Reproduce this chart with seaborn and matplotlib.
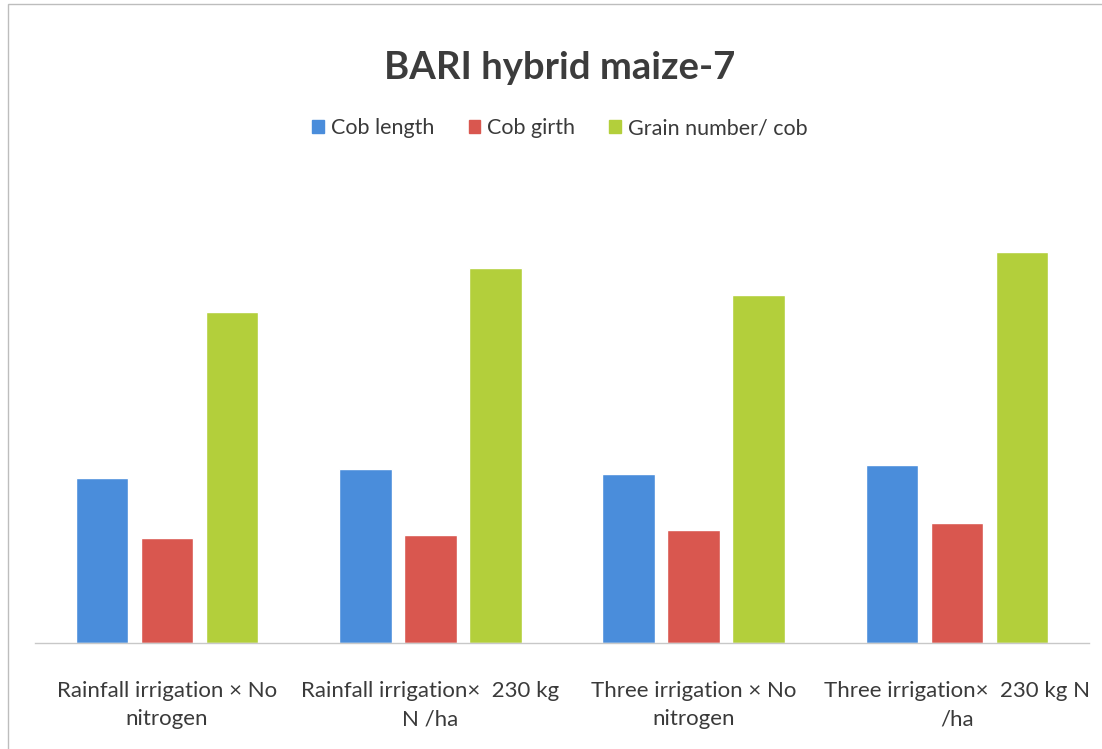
import pandas as pd
import numpy as np
import matplotlib.pyplot as plt
import seaborn as sns
from matplotlib.patches import Rectangle

# data (no value axis shown, relative heights only)
categories = [
    "Rainfall irrigation × No\nnitrogen",
    "Rainfall irrigation×  230 kg\nN /ha",
    "Three irrigation × No\nnitrogen",
    "Three irrigation×  230 kg N\n/ha",
]
series = ["Cob length", "Cob girth", "Grain number/ cob"]
cob_length = [16.5, 17.4, 16.9, 17.8]
cob_girth = [10.5, 10.8, 11.3, 12.0]
grain_number = [33.1, 37.5, 34.8, 39.1]

colors = ["#4a8ddb", "#d9574f", "#b3cf3b"]

df = pd.DataFrame({
    "treatment": categories * 3,
    "trait": [s for s in series for _ in categories],
    "value": cob_length + cob_girth + grain_number,
})

sns.set_theme(style="white")
plt.rcParams["font.family"] = ["Lato", "DejaVu Sans"]

fig = plt.figure(figsize=(11.02, 7.49), dpi=100)
ax = fig.add_axes([0.032, 0.1415, 0.956, 0.592])

sns.barplot(data=df, x="treatment", y="value", hue="trait", palette=colors,
            width=0.74, gap=0.19, ax=ax, legend=True, saturation=1)

ax.set_ylim(0, 44.3)
ax.set_xlim(-0.5, 3.5)
ax.set_xlabel("")
ax.set_ylabel("")
ax.set_yticks([])
for side in ["top", "right", "left"]:
    ax.spines[side].set_visible(False)
ax.spines["bottom"].set_color("#c8c8c8")
ax.spines["bottom"].set_linewidth(1.0)
ax.tick_params(axis="x", length=0, pad=27, labelsize=16, labelcolor="#3a3a3a")
for lbl in ax.get_xticklabels():
    lbl.set_linespacing(1.55)

ax.legend_.remove()
handles = [Rectangle((0, 0), 1, 1, color=c) for c in colors]
fig.legend(handles, series, loc="center", bbox_to_anchor=(0.508, 0.829), ncol=3,
           frameon=False, fontsize=15.5, handlelength=0.55, handleheight=0.6,
           handletextpad=0.3, columnspacing=1.6, labelcolor="#3a3a3a")

fig.text(0.508, 0.909, "BARI hybrid maize-7", ha="center", va="center",
         fontsize=27.5, fontweight="bold", color="#3c3c3c")

# thin border of the scanned page
fig.patches.append(Rectangle((0.007, -0.01), 0.995, 1.004, transform=fig.transFigure,
                             fill=False, edgecolor="#bdbdbd", linewidth=1.0))

plt.savefig("out.png", dpi=100)
